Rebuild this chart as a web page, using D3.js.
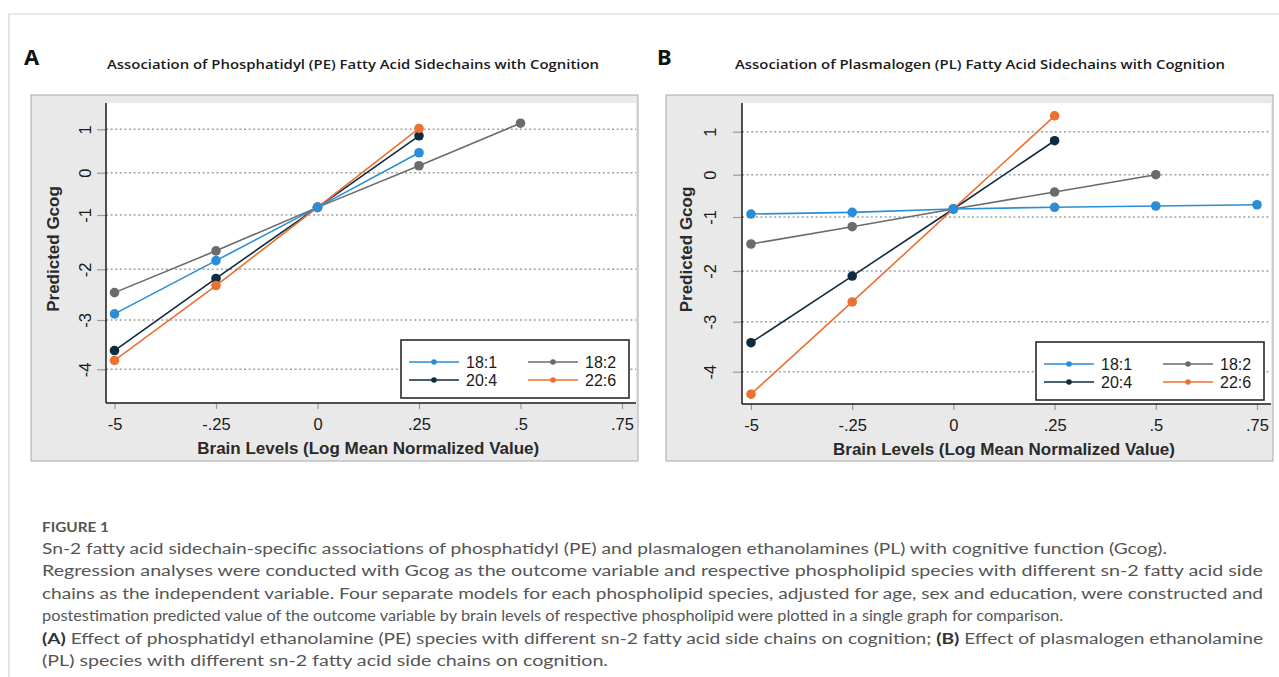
<!DOCTYPE html>
<html>
<head>
<meta charset="utf-8">
<script src="https://cdn.jsdelivr.net/npm/d3@7"></script>
<style>
  body { margin: 0; background: #fff; }
  svg { display: block; }
</style>
</head>
<body>
<svg id="fig" width="1279" height="677"></svg>
<script>
// ---- data ----
const xValues = [-0.5, -0.25, 0, 0.25, 0.5, 0.75];
const xTickLabels = ["-5", "-.25", "0", ".25", ".5", ".75"];
const yTicks = [-4, -3, -2, -1, 0, 1];
const seriesNames = ["18:1", "18:2", "20:4", "22:6"];
const seriesColors = ["#2b8dd6", "#6b6b6b", "#0f2b40", "#ea7131"];
const drawOrder = [1, 2, 3, 0];

// panel A: phosphatidyl (PE)
const pe181 = [-2.88, -1.84, -0.82, 0.46];
const pe182 = [-2.46, -1.66, -0.82, 0.16, 1.14];
const pe204 = [-3.62, -2.18, -0.82, 0.85];
const pe226 = [-3.82, -2.32, -0.82, 1.02];

// panel B: plasmalogen (PL)
const pl181 = [-0.93, -0.89, -0.81, -0.77, -0.74, -0.71];
const pl182 = [-1.5, -1.18, -0.81, -0.41, 0.0];
const pl204 = [-3.42, -2.1, -0.81, 0.79];
const pl226 = [-4.45, -2.61, -0.81, 1.37];

const titleA = "Association of Phosphatidyl (PE) Fatty Acid Sidechains with Cognition";
const titleB = "Association of Plasmalogen (PL) Fatty Acid Sidechains with Cognition";
const xTitle = "Brain Levels (Log Mean Normalized Value)";
const yTitle = "Predicted Gcog";

const captionHead = "FIGURE 1";
const captionLines = [
  [["Sn-2 fatty acid sidechain-specific associations of phosphatidyl (PE) and plasmalogen ethanolamines (PL) with cognitive function (Gcog).", false]],
  [["Regression analyses were conducted with Gcog as the outcome variable and respective phospholipid species with different sn-2 fatty acid side", false]],
  [["chains as the independent variable. Four separate models for each phospholipid species, adjusted for age, sex and education, were constructed and", false]],
  [["postestimation predicted value of the outcome variable by brain levels of respective phospholipid were plotted in a single graph for comparison.", false]],
  [["(A)", true], [" Effect of phosphatidyl ethanolamine (PE) species with different sn-2 fatty acid side chains on cognition; ", false], ["(B)", true], [" Effect of plasmalogen ethanolamine", false]],
  [["(PL) species with different sn-2 fatty acid side chains on cognition.", false]]
];
const captionWidths = [1125, 1221, 1221, 1021, 1221, 566];

// ---- layout ----
const W = 1279, H = 677;
const statFont = "'Liberation Sans', Arial, sans-serif";
const svg = d3.select("#fig");

// page frame
svg.append("path")
  .attr("d", `M9,${H} V14 H${W}`)
  .attr("fill", "none")
  .attr("stroke", "#d4d4d4")
  .attr("stroke-width", 1.2);

const panels = [
  {
    letter: "A", title: titleA, series: [pe181, pe182, pe204, pe226],
    box: { x: 31, y: 95, w: 607, h: 366 },
    axisX: 106, plotTop: 103, plotBottom: 403,
    xRange: [114.5, 622],
    yRange: [369.3, 320, 269.3, 215, 172.7, 129.3],
    yLabelX: 85, yTitleX: 53,
    legend: { x: 401, y: 340 },
    titleX: 353, titleW: 492, letterX: 24
  },
  {
    letter: "B", title: titleB, series: [pl181, pl182, pl204, pl226],
    box: { x: 666, y: 95, w: 607, h: 366 },
    axisX: 742, plotTop: 103, plotBottom: 404,
    xRange: [751, 1257],
    yRange: [371.7, 321.7, 271, 217, 174.7, 131.7],
    yLabelX: 710, yTitleX: 686,
    legend: { x: 1036, y: 342 },
    titleX: 980, titleW: 490, letterX: 657
  }
];

panels.forEach(p => {
  const g = svg.append("g");

  g.append("text")
    .attr("x", p.letterX).attr("y", 65)
    .attr("font-family", "'Noto Sans', sans-serif")
    .attr("font-weight", 700).attr("font-size", 22)
    .attr("fill", "#111")
    .text(p.letter);

  g.append("text")
    .attr("x", p.titleX).attr("y", 69)
    .attr("text-anchor", "middle")
    .attr("font-family", "'Open Sans', sans-serif")
    .attr("font-weight", 600).attr("font-size", 12.5)
    .attr("fill", "#1a1a1a")
    .attr("textLength", p.titleW)
    .attr("lengthAdjust", "spacingAndGlyphs")
    .text(p.title);

  // graph region
  g.append("rect")
    .attr("x", p.box.x).attr("y", p.box.y)
    .attr("width", p.box.w).attr("height", p.box.h)
    .attr("fill", "#e9e9e9")
    .attr("stroke", "#a8a8a8").attr("stroke-width", 1);

  const plotRight = p.box.x + p.box.w - 2;
  g.append("rect")
    .attr("x", p.axisX).attr("y", p.plotTop)
    .attr("width", plotRight - p.axisX).attr("height", p.plotBottom - p.plotTop)
    .attr("fill", "#fff");

  const x = d3.scaleLinear().domain([-0.5, 0.75]).range(p.xRange);
  const y = d3.scaleLinear().domain(yTicks).range(p.yRange);

  // grid
  g.append("g").selectAll("line")
    .data(yTicks)
    .join("line")
      .attr("x1", p.axisX).attr("x2", plotRight)
      .attr("y1", d => y(d)).attr("y2", d => y(d))
      .attr("stroke", "#a0a0a0")
      .attr("stroke-width", 1.6)
      .attr("stroke-dasharray", "2,2.6");

  // x axis
  const xAxis = g.append("g")
    .attr("transform", `translate(0,${p.plotBottom})`)
    .call(d3.axisBottom(x)
      .tickValues(xValues)
      .tickFormat((d, i) => xTickLabels[i])
      .tickSize(6).tickSizeOuter(0));
  xAxis.select(".domain").remove();
  xAxis.selectAll(".tick line").attr("stroke", "#9a9a9a").attr("stroke-width", 1.2);
  xAxis.selectAll(".tick text")
    .attr("y", 21).attr("dy", "0.35em")
    .attr("font-family", statFont).attr("font-size", 16.5)
    .attr("fill", "#1a1a1a");

  // y axis
  const yAxis = g.append("g")
    .attr("transform", `translate(${p.axisX},0)`)
    .call(d3.axisLeft(y)
      .tickValues(yTicks)
      .tickFormat(d => String(d))
      .tickSize(9).tickSizeOuter(0));
  yAxis.select(".domain").remove();
  yAxis.selectAll(".tick line").attr("stroke", "#9a9a9a").attr("stroke-width", 1.2);
  yAxis.selectAll(".tick text")
    .attr("x", null).attr("dy", "0.36em")
    .attr("transform", `translate(${p.yLabelX - p.axisX},0) rotate(-90)`)
    .attr("text-anchor", "middle")
    .attr("font-family", statFont).attr("font-size", 16.5)
    .attr("fill", "#1a1a1a");

  // axis lines
  g.append("line")
    .attr("x1", p.axisX).attr("x2", p.axisX)
    .attr("y1", p.plotTop).attr("y2", p.plotBottom)
    .attr("stroke", "#1a1a1a").attr("stroke-width", 1.5);
  g.append("line")
    .attr("x1", p.axisX).attr("x2", plotRight)
    .attr("y1", p.plotBottom).attr("y2", p.plotBottom)
    .attr("stroke", "#1a1a1a").attr("stroke-width", 1.5);

  // axis titles
  g.append("text")
    .attr("x", (p.xRange[0] + p.xRange[1]) / 2).attr("y", p.plotBottom + 45)
    .attr("dy", "0.35em")
    .attr("text-anchor", "middle")
    .attr("font-family", statFont).attr("font-weight", 700).attr("font-size", 17)
    .attr("fill", "#2a2a2a")
    .text(xTitle);
  g.append("text")
    .attr("transform", `translate(${p.yTitleX},${(p.plotTop + p.plotBottom) / 2 - 4}) rotate(-90)`)
    .attr("dy", "0.35em")
    .attr("text-anchor", "middle")
    .attr("font-family", statFont).attr("font-weight", 700).attr("font-size", 17)
    .attr("fill", "#2a2a2a")
    .text(yTitle);

  // series
  const line = d3.line().x((d, i) => x(xValues[i])).y(d => y(d));
  drawOrder.forEach(k => {
    const vals = p.series[k];
    const sg = g.append("g");
    sg.append("path")
      .attr("d", line(vals))
      .attr("fill", "none")
      .attr("stroke", seriesColors[k])
      .attr("stroke-width", 1.6);
    sg.selectAll("circle")
      .data(vals)
      .join("circle")
        .attr("cx", (d, i) => x(xValues[i]))
        .attr("cy", d => y(d))
        .attr("r", 4.8)
        .attr("fill", seriesColors[k]);
  });

  // legend
  const lg = g.append("g").attr("transform", `translate(${p.legend.x},${p.legend.y})`);
  lg.append("rect")
    .attr("width", 228).attr("height", 58)
    .attr("fill", "#fff")
    .attr("stroke", "#2a2a2a").attr("stroke-width", 1.6);
  seriesNames.forEach((name, i) => {
    const cx = (i % 2) * 119, cy = 22 + Math.floor(i / 2) * 18;
    const item = lg.append("g").attr("transform", `translate(${cx},${cy})`);
    item.append("line")
      .attr("x1", 8).attr("x2", 58)
      .attr("stroke", seriesColors[i]).attr("stroke-width", 1.6);
    item.append("circle")
      .attr("cx", 33).attr("r", 2.8)
      .attr("fill", seriesColors[i]);
    item.append("text")
      .attr("x", 65).attr("dy", "0.36em")
      .attr("font-family", statFont).attr("font-size", 16)
      .attr("fill", "#1a1a1a")
      .text(name);
  });
});

// caption
const cap = svg.append("g").attr("font-family", "Lato, 'Open Sans', sans-serif");
cap.append("text")
  .attr("x", 42).attr("y", 532)
  .attr("font-size", 14).attr("font-weight", 700)
  .attr("fill", "#555")
  .attr("textLength", 67).attr("lengthAdjust", "spacingAndGlyphs")
  .text(captionHead);

captionLines.forEach((parts, i) => {
  const t = cap.append("text")
    .attr("x", 42).attr("y", 554 + i * 22.4)
    .attr("font-size", 15.5)
    .attr("fill", "#555")
    .attr("textLength", captionWidths[i])
    .attr("lengthAdjust", "spacingAndGlyphs");
  parts.forEach(([s, bold]) => {
    t.append("tspan")
      .attr("font-weight", bold ? 700 : 400)
      .attr("fill", bold ? "#333" : "#555")
      .text(s);
  });
});
</script>
</body>
</html>
